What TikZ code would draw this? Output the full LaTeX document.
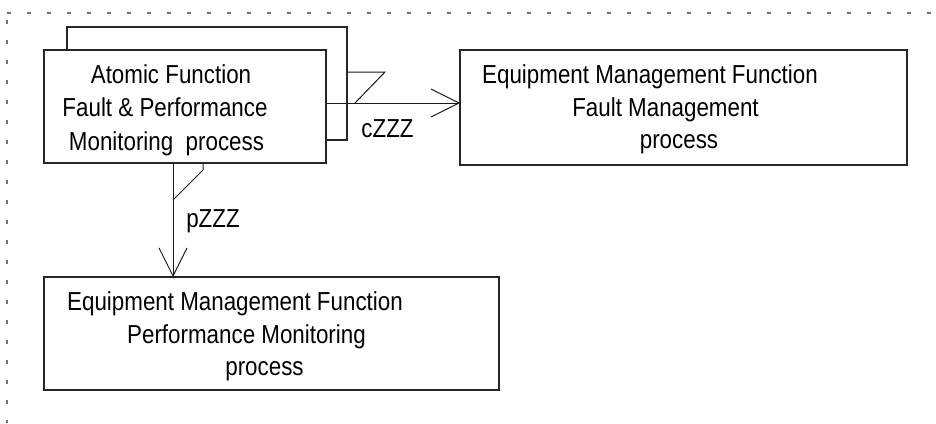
\documentclass[tikz,border=0pt]{standalone}
\usepackage{fontspec}
\setmainfont[FakeStretch=0.86]{Liberation Sans}
\usetikzlibrary{arrows.meta,calc}
\begin{document}
\begin{tikzpicture}[x=1pt,y=-1pt,
  box/.style={draw=black!85,line width=1.1pt,fill=white,inner sep=0pt,outer sep=0pt,anchor=north west},
  txt/.style={inner sep=0pt,anchor=base,font=\fontsize{26pt}{30pt}\selectfont},
  conn/.style={draw=black!90,line width=1pt},
  tip/.style={-{Straight Barb[length=28pt,width=28pt]}},
  border/.style={draw=black!55,line width=1.3pt,dash pattern=on 4pt off 16pt}]
\useasboundingbox (0,0) rectangle (936,423);
% dotted frame
\draw[border] (7,13) -- (936,13);
\draw[border] (7,20) -- (7,423);
% boxes
\node[box,minimum width=280pt,minimum height=113pt] (back) at (67,27) {};
\node[box,minimum width=282pt,minimum height=113pt] (af) at (44,50) {};
\node[box,minimum width=447pt,minimum height=115pt] (fm) at (460,50) {};
\node[box,minimum width=455pt,minimum height=113pt] (pm) at (44,277) {};
% texts
\node[txt] (af1) at (171,83) {Atomic Function};
\node[txt] (af2) at (165,116.5) {Fault \& Performance};
\node[txt] (af3) at (166.5,150) {Monitoring\ \ process};
\node[txt] (fm1) at (650,83) {Equipment Management Function};
\node[txt] (fm2) at (665.5,116.5) {Fault Management};
\node[txt] (fm3) at (679,148) {process};
\node[txt] (pm1) at (235,310) {Equipment Management Function};
\node[txt] (pm2) at (246.5,343.5) {Performance Monitoring};
\node[txt] (pm3) at (264.5,375) {process};
% connectors
\coordinate (cy) at (0,103);
\coordinate (px) at (173,0);
\draw[conn,tip] (af.east |- cy) -- (fm.west |- cy);
\draw[conn,tip] (af.south -| px) -- (pm.north -| px);
% markers
\draw[conn] (back.east |- 0,72) -- (385,72) -- (355,103);
\draw[conn] (203,163) -- (203,170) -- (173,200);
% labels
\node[txt] (cl) at (387.5,137) {cZZZ};
\node[txt] (pl) at (213,227) {pZZZ};
\end{tikzpicture}
\end{document}
